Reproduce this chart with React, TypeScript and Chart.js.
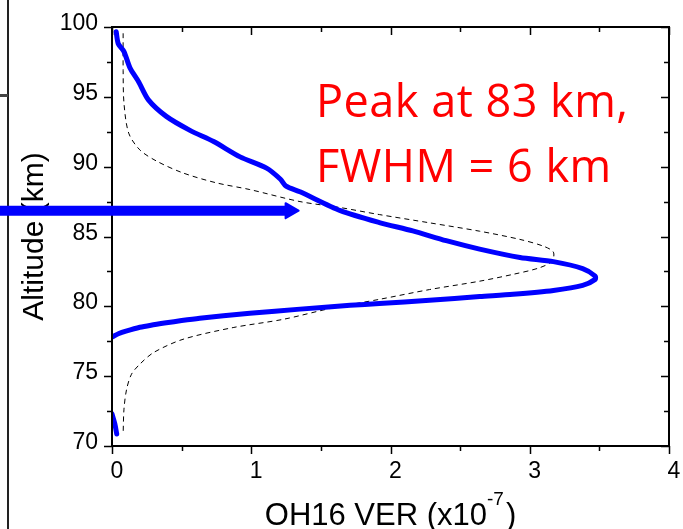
import React, { useEffect, useRef } from "react";
import { Chart, registerables } from "chart.js";

Chart.register(...registerables);

// Measured OH16 VER profile (x10^-7) vs altitude (km)
const measuredVER = [0.03, 0.045, 0.086, 0.13, 0.19, 0.26, 0.39, 0.56, 0.73, 0.92, 1.11, 1.21, 1.25, 1.35, 1.64, 1.92, 2.16, 2.4, 2.64, 2.93, 3.17, 3.38, 3.47, 3.47, 3.38, 3.17, 2.88, 2.64, 2.28, 1.92, 1.71, 1.35, 0.99, 0.8, 0.63, 0.5, 0.39, 0.28, 0.2, 0.1, 0.05, 0.0];
const measuredAlt = [99.66, 98.8, 98.24, 97.05, 96.1, 94.8, 93.6, 92.6, 91.8, 90.7, 89.9, 89.1, 88.6, 88.2, 86.85, 86.0, 85.4, 84.7, 84.1, 83.5, 83.2, 82.7, 82.17, 81.93, 81.5, 81.14, 80.86, 80.7, 80.43, 80.2, 80.07, 79.8, 79.5, 79.33, 79.15, 78.98, 78.82, 78.65, 78.5, 78.22, 78.05, 77.8];
const measuredLowVER = [0.0, 0.02, 0.034];
const measuredLowAlt = [72.3, 71.6, 70.86];

// Model (Gaussian-like) profile, dashed
const modelVER = [0.08, 0.08, 0.086, 0.12, 0.2, 0.32, 0.51, 0.75, 0.99, 1.35, 1.64, 1.92, 2.28, 2.64, 2.93, 3.1, 3.17, 3.16, 3.07, 2.88, 2.64, 2.28, 1.92, 1.59, 1.23, 0.87, 0.51, 0.3, 0.2, 0.14, 0.105, 0.086, 0.08];
const modelAlt = [99.55, 96.9, 94.55, 92.4, 91.2, 90.4, 89.55, 88.84, 88.36, 87.5, 87.07, 86.57, 85.98, 85.38, 84.79, 84.3, 83.88, 83.24, 82.76, 82.29, 81.8, 81.2, 80.5, 79.9, 79.07, 78.48, 77.64, 76.7, 75.86, 75.14, 74.07, 72.64, 70.86];

const xTicks = [0, 1, 2, 3, 4];
const xMinorTicks = [0.5, 1.5, 2.5, 3.5];
const yTicks = [70, 75, 80, 85, 90, 95, 100];
const yMinorTicks = [72.5, 77.5, 82.5, 87.5, 92.5, 97.5];
const xTitle = "OH16 VER (x10";
const xTitleExp = "-7";
const yTitle = "Altitude (km)";
const noteLines = ["Peak at 83 km,", "FWHM = 6 km"];
const arrowAltitude = 86.85;
const arrowTipVER = 1.34;

const toPoints = (xs: number[], ys: number[]) => xs.map((v, i) => ({ x: v, y: ys[i] }));

const framePlugin = {
  id: "frame",
  afterDatasetsDraw(chart: any) {
    const { ctx, chartArea: a, scales } = chart;
    const xs = scales.x;
    const ys = scales.y;
    ctx.save();

    // page decoration on the far left
    ctx.strokeStyle = "#222";
    ctx.lineWidth = 2;
    ctx.beginPath();
    ctx.moveTo(8, 0);
    ctx.lineTo(8, chart.height);
    ctx.stroke();
    ctx.strokeStyle = "#444";
    ctx.lineWidth = 3;
    ctx.beginPath();
    ctx.moveTo(0, 95.5);
    ctx.lineTo(8, 95.5);
    ctx.stroke();

    // frame
    ctx.strokeStyle = "#000";
    ctx.lineWidth = 2;
    ctx.strokeRect(a.left, a.top, a.right - a.left, a.bottom - a.top);

    ctx.lineWidth = 1.5;
    ctx.beginPath();
    const tick = (vals: number[], len: number) => {
      vals.forEach((v) => {
        const px = Math.round(xs.getPixelForValue(v)) + 0.5;
        ctx.moveTo(px, a.bottom);
        ctx.lineTo(px, a.bottom + len);
        ctx.moveTo(px, a.top);
        ctx.lineTo(px, a.top + len);
      });
    };
    const ytick = (vals: number[], len: number) => {
      vals.forEach((v) => {
        const py = Math.round(ys.getPixelForValue(v)) + 0.5;
        ctx.moveTo(a.left, py);
        ctx.lineTo(a.left - len, py);
        ctx.moveTo(a.right, py);
        ctx.lineTo(a.right - len, py);
      });
    };
    tick(xTicks, 8);
    tick(xMinorTicks, 5);
    ytick(yTicks, 8);
    ytick(yMinorTicks, 5);
    ctx.stroke();

    // tick labels
    ctx.fillStyle = "#000";
    ctx.font = "23px 'Liberation Sans', Arial, sans-serif";
    ctx.textBaseline = "alphabetic";
    ctx.textAlign = "right";
    yTicks.forEach((v) => {
      ctx.fillText(String(v), a.left - 14, ys.getPixelForValue(v) + 3);
    });
    ctx.textAlign = "center";
    xTicks.forEach((v) => {
      ctx.fillText(String(v), xs.getPixelForValue(v) + 5, a.bottom + 32);
    });

    // x title with superscript
    const big = "31px 'Liberation Sans', Arial, sans-serif";
    const small = "19px 'Liberation Sans', Arial, sans-serif";
    ctx.textAlign = "left";
    ctx.font = big;
    const w1 = ctx.measureText(xTitle).width;
    const w3 = ctx.measureText(")").width;
    ctx.font = small;
    const w2 = ctx.measureText(xTitleExp).width;
    const total = w1 + w2 + w3 + 2;
    let sx = (a.left + a.right) / 2 - total / 2;
    ctx.font = big;
    ctx.fillText(xTitle, sx, a.bottom + 79);
    sx += w1;
    ctx.font = small;
    ctx.fillText(xTitleExp, sx, a.bottom + 59);
    sx += w2 + 2;
    ctx.font = big;
    ctx.fillText(")", sx, a.bottom + 79);

    // y title
    ctx.save();
    ctx.translate(43, (a.top + a.bottom) / 2);
    ctx.rotate(-Math.PI / 2);
    ctx.textAlign = "center";
    ctx.font = "30px 'Liberation Sans', Arial, sans-serif";
    ctx.fillText(yTitle, 0, 0);
    ctx.restore();

    // blue arrow
    const tipX = xs.getPixelForValue(arrowTipVER);
    const ay = ys.getPixelForValue(arrowAltitude);
    ctx.strokeStyle = "#0000ff";
    ctx.fillStyle = "#0000ff";
    ctx.lineWidth = 10;
    ctx.lineCap = "butt";
    ctx.beginPath();
    ctx.moveTo(0, ay);
    ctx.lineTo(tipX - 11, ay);
    ctx.stroke();
    ctx.lineWidth = 2;
    ctx.lineJoin = "round";
    ctx.beginPath();
    ctx.moveTo(tipX - 13, ay - 7.5);
    ctx.lineTo(tipX, ay);
    ctx.lineTo(tipX - 13, ay + 7.5);
    ctx.closePath();
    ctx.fill();
    ctx.stroke();

    // red annotation
    ctx.fillStyle = "#ff0000";
    ctx.font = "45px 'Open Sans', Lato, sans-serif";
    ctx.textAlign = "left";
    try {
      (ctx as any).letterSpacing = "0.5px";
    } catch (e) {}
    ctx.fillText(noteLines[0], 316, 117);
    ctx.fillText(noteLines[1], 316, 182);

    ctx.restore();
  },
};

export default function App() {
  const ref = useRef<HTMLCanvasElement | null>(null);
  useEffect(() => {
    if (!ref.current) return;
    const chart = new Chart(ref.current, {
      type: "scatter",
      data: {
        datasets: [
          {
            data: toPoints(measuredVER, measuredAlt),
            showLine: true,
            borderColor: "#0000ff",
            borderWidth: 5,
            pointRadius: 0,
            tension: 0.25,
            borderCapStyle: "round",
            borderJoinStyle: "round",
            order: 0,
          },
          {
            data: toPoints(measuredLowVER, measuredLowAlt),
            showLine: true,
            borderColor: "#0000ff",
            borderWidth: 5,
            pointRadius: 0,
            tension: 0.25,
            borderCapStyle: "round",
            order: 0,
          },
          {
            data: toPoints(modelVER, modelAlt),
            showLine: true,
            borderColor: "#000000",
            borderWidth: 1,
            borderDash: [5, 4],
            pointRadius: 0,
            tension: 0.3,
            order: 1,
          },
        ],
      },
      options: {
        animation: false,
        responsive: false,
        layout: { padding: { left: 112, right: 14, top: 27, bottom: 83 } },
        plugins: { legend: { display: false }, tooltip: { enabled: false } },
        scales: {
          x: { type: "linear", min: 0, max: 4, display: false },
          y: { type: "linear", min: 70, max: 100, display: false },
        },
      },
      plugins: [framePlugin],
    });
    return () => chart.destroy();
  }, []);
  return (
    <div style={{ position: "absolute", left: 0, top: 0, width: 683, height: 529, background: "#fff" }}>
      <canvas ref={ref} width={683} height={529} style={{ display: "block" }} />
    </div>
  );
}
